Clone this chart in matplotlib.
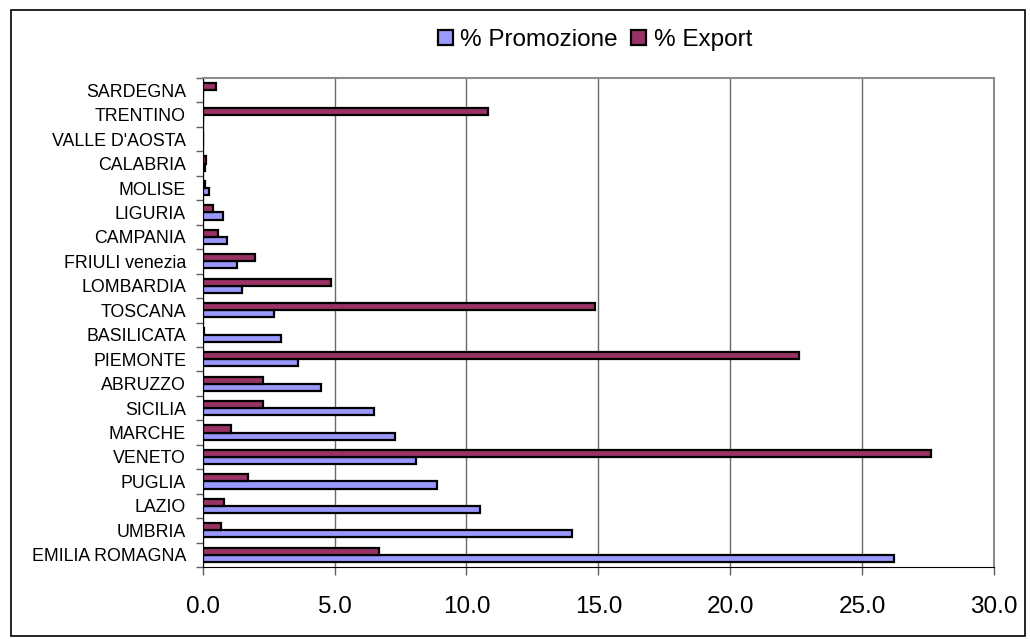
import numpy as np
import matplotlib.pyplot as plt
from matplotlib.patches import Rectangle
from matplotlib.ticker import FormatStrFormatter

plt.rcParams['font.family'] = ['Liberation Sans', 'DejaVu Sans']

# categories from bottom to top
regioni = ["EMILIA ROMAGNA", "UMBRIA", "LAZIO", "PUGLIA", "VENETO", "MARCHE",
           "SICILIA", "ABRUZZO", "PIEMONTE", "BASILICATA", "TOSCANA", "LOMBARDIA",
           "FRIULI venezia", "CAMPANIA", "LIGURIA", "MOLISE", "CALABRIA",
           "VALLE D'AOSTA", "TRENTINO", "SARDEGNA"]
promozione = [26.2, 14.0, 10.5, 8.9, 8.1, 7.3, 6.5, 4.5, 3.6, 2.95, 2.7, 1.5,
              1.3, 0.93, 0.78, 0.24, 0.1, 0.0, 0.0, 0.0]
export = [6.7, 0.7, 0.82, 1.73, 27.6, 1.07, 2.28, 2.3, 22.6, 0.05, 14.87, 4.86,
          2.0, 0.59, 0.4, 0.1, 0.12, 0.0, 10.8, 0.5]
xticks = [0, 5, 10, 15, 20, 25, 30]

fig = plt.figure(figsize=(10.30, 6.39), dpi=100)
ax = fig.add_axes([202.7 / 1030, 1 - 567 / 639, (994 - 202.7) / 1030, (567 - 78) / 639])

y = np.arange(len(regioni))
h = 0.29
ax.barh(y - h / 2, promozione, height=h, color="#9999FF", edgecolor="black",
        linewidth=1.6, label="% Promozione", zorder=3)
ax.barh(y + h / 2, export, height=h, color="#993366", edgecolor="black",
        linewidth=1.6, label="% Export", zorder=3)

ax.set_xlim(0, 30)
ax.set_ylim(-0.5, len(regioni) - 0.5)
ax.set_xticks(xticks)
ax.xaxis.set_major_formatter(FormatStrFormatter("%.1f"))
ax.set_yticks(y)
ax.set_yticklabels(regioni, fontsize=12.8)
ax.set_yticks(np.arange(-0.5, len(regioni), 1), minor=True)
ax.tick_params(axis="y", which="major", length=0, pad=12)
ax.tick_params(axis="y", which="minor", length=5, width=1, color="#606060")
ax.tick_params(axis="x", labelsize=17.5, length=6, width=1, color="#606060", pad=15)

ax.grid(axis="x", color="#6a6a6a", linewidth=1, zorder=0)
for s in ["top", "right"]:
    ax.spines[s].set_color("#8c8c8c")
    ax.spines[s].set_linewidth(1.5)
ax.spines["left"].set_color("black")
ax.spines["bottom"].set_color("black")

ax.legend(loc="center", bbox_to_anchor=(595 / 1030, 1 - 40 / 639),
          bbox_transform=fig.transFigure, ncol=2, frameon=False, fontsize=17.5,
          handlelength=0.62, handleheight=0.62, handletextpad=0.3,
          columnspacing=0.55, borderpad=0)

fig.patches.append(Rectangle((11 / 1030, 1 - 636 / 639), (1025 - 11) / 1030,
                             (636 - 10) / 639, transform=fig.transFigure,
                             fill=False, edgecolor="black", linewidth=1.2))

fig.savefig("out.png", dpi=100)
